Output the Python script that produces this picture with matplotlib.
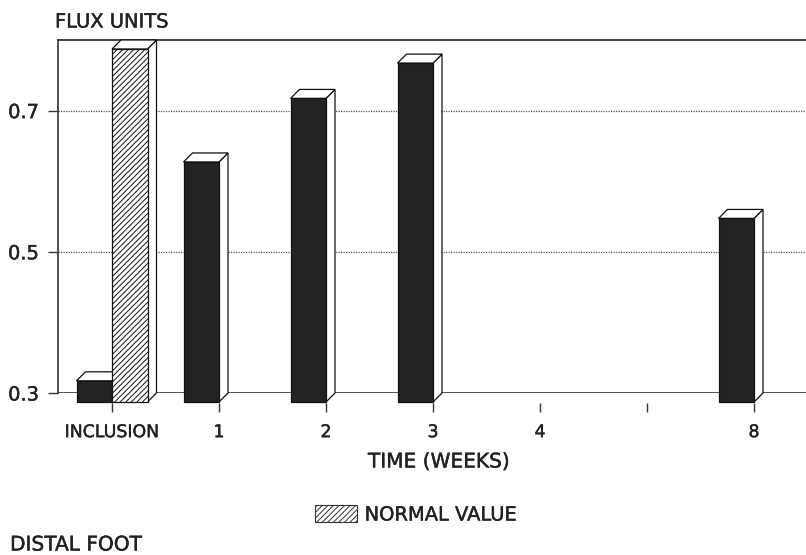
import numpy as np
import matplotlib
matplotlib.use("Agg")
import matplotlib.pyplot as plt
from matplotlib.patches import Polygon, Patch
import matplotlib.patheffects as pe

# ---- data ----
categories = ["INCLUSION", "1", "2", "3", "4", "", "8"]
flux_values = [0.33, 0.64, 0.73, 0.78, np.nan, np.nan, 0.56]
normal_values = [0.80, np.nan, np.nan, np.nan, np.nan, np.nan, np.nan]
y_ticks = [0.3, 0.5, 0.7]
y_tick_labels = ["0.3", "0.5", "0.7"]

# ---- style ----
plt.rcParams["font.family"] = ["DejaVu Sans"]
plt.rcParams["hatch.linewidth"] = 0.7
TXT = "#222222"
DARK = "#232323"
BOLDEN = [pe.Stroke(linewidth=0.3, foreground=TXT), pe.Normal()]

W, H = 806, 555
fig = plt.figure(figsize=(W / 100, H / 100), dpi=100)
fig.patch.set_facecolor("white")

left_px, right_px, top_px, bot_px = 58, 806, 40, 393
ax = fig.add_axes([left_px / W, 1 - bot_px / H, (right_px - left_px) / W, (bot_px - top_px) / H])
ax.set_facecolor("white")

ymin, ymax = 0.3, 0.8
ax.set_ylim(ymin, ymax)
px_per_unit = 107.0
ax.set_xlim((left_px - 112) / px_per_unit, (right_px - 112) / px_per_unit)

# gridlines
for yv in [0.5, 0.7]:
    ax.axhline(yv, color="#555555", lw=0.9, ls=(0, (1, 1)), zorder=1)
ax.axhline(ymin, color="#333333", lw=1.2, zorder=1)

# depth offsets (data units)
ppv = (bot_px - top_px) / (ymax - ymin)
dx = 9 / px_per_unit
dy = 9 / ppv
bw = 35.5 / px_per_unit


def bar3d(x0, v, face, hatch=None, z=3):
    x1 = x0 + bw
    b = ymin - dy
    t = v - dy
    front = Polygon([(x0, b), (x1, b), (x1, t), (x0, t)], closed=True,
                    facecolor=face, edgecolor="#111111", lw=0.9,
                    hatch=hatch, clip_on=False, zorder=z)
    top = Polygon([(x0, t), (x1, t), (x1 + dx, v), (x0 + dx, v)], closed=True,
                  facecolor="white", edgecolor="#111111", lw=0.9, clip_on=False, zorder=z)
    side = Polygon([(x1, b), (x1 + dx, ymin), (x1 + dx, v), (x1, t)], closed=True,
                   facecolor="white", edgecolor="#111111", lw=0.9, clip_on=False, zorder=z)
    for p in (side, top, front):
        ax.add_patch(p)


for i, v in enumerate(flux_values):
    if not np.isnan(v):
        bar3d(i - bw, v, DARK, z=3)
for i, v in enumerate(normal_values):
    if not np.isnan(v):
        bar3d(i, v, "white", hatch="//////", z=4)

# spines
ax.spines["right"].set_visible(False)
ax.spines["bottom"].set_visible(False)
ax.spines["top"].set_color("#333333")
ax.spines["top"].set_linewidth(1.3)
ax.spines["left"].set_color("#333333")
ax.spines["left"].set_linewidth(1.2)
ax.spines["bottom"].set_position(("outward", 7.2))

ax.set_yticks(y_ticks)
ax.set_yticklabels(y_tick_labels, fontsize=14, color=TXT)
ax.tick_params(axis="y", direction="out", length=7.2, width=1.0, color="#333333", pad=6.5)

ax.set_xticks(range(len(categories)))
ax.set_xticklabels(categories, fontsize=12.5, color=TXT)
ax.tick_params(axis="x", direction="out", length=6.5, width=1.0, color="#333333", pad=8)

for lbl in ax.get_xticklabels() + ax.get_yticklabels():
    lbl.set_path_effects(BOLDEN)

# texts
for x, y, s, fs, ha in [(55, 22, "FLUX UNITS", 14, "left"),
                        (439, 462, "TIME (WEEKS)", 14.5, "center"),
                        (10, 545, "DISTAL FOOT", 14.5, "left")]:
    fig.text(x / W, 1 - y / H, s, fontsize=fs, color=TXT, ha=ha, va="center",
             path_effects=BOLDEN)

leg = fig.legend(handles=[Patch(facecolor="white", edgecolor="#333333", hatch="//////", lw=0.8,
                                label="NORMAL VALUE")],
                 loc="center left", bbox_to_anchor=(315 / W, 1 - 515 / H),
                 frameon=False, fontsize=14, handlelength=2.15, handleheight=0.95,
                 handletextpad=0.4, borderpad=0, borderaxespad=0)
for t in leg.get_texts():
    t.set_color(TXT)
    t.set_path_effects(BOLDEN)

fig.savefig("out.png", dpi=100, facecolor="white")
